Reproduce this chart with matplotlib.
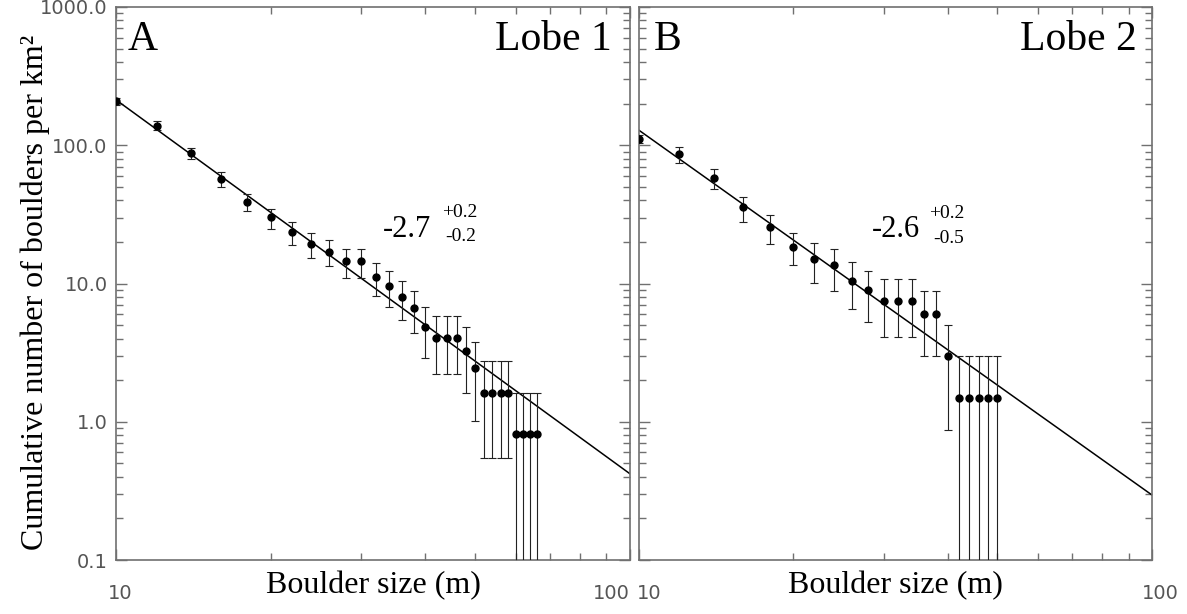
import numpy as np
import matplotlib
matplotlib.use("Agg")
import matplotlib.pyplot as plt
from matplotlib.ticker import FixedLocator, NullFormatter
import matplotlib.transforms as mtransforms

# ---------------- data ----------------
size_a = [10, 12, 14, 16, 18, 20, 22, 24, 26, 28, 30, 32, 34, 36, 38, 40,
          42, 44, 46, 48, 50, 52, 54, 56, 58, 60, 62, 64, 66]
dens_a = [208, 138, 88.3, 57.3, 38.9, 30.1, 23.5, 19.3, 16.9, 14.6, 14.6, 11.1,
          9.6, 8.0, 6.7, 4.87, 4.06, 4.06, 4.06, 3.23, 2.44, 1.62, 1.62, 1.62,
          1.62, 0.81, 0.81, 0.81, 0.81]
upper_a = [220, 149, 95.9, 63.7, 44.2, 34.8, 27.7, 23.3, 20.5, 17.8, 17.8, 14.0,
           12.3, 10.5, 8.87, 6.79, 5.79, 5.79, 5.79, 4.82, 3.79, 2.75, 2.75, 2.75,
           2.75, 1.62, 1.62, 1.62, 1.62]
lower_a = [196, 129, 79.5, 49.9, 33.5, 24.8, 19.0, 15.2, 13.3, 11.0, 11.0, 8.08,
           6.79, 5.47, 4.38, 2.88, 2.22, 2.22, 2.22, 1.62, 1.02, 0.547, 0.547,
           0.547, 0.547, 0.0, 0.0, 0.0, 0.0]

size_b = [10, 12, 14, 16, 18, 20, 22, 24, 26, 28, 30, 32, 34, 36, 38, 40,
          42, 44, 46, 48, 50]
dens_b = [110.4, 86.9, 57.9, 35.6, 25.5, 18.5, 15.0, 13.5, 10.5, 8.98, 7.51,
          7.51, 7.51, 5.98, 5.98, 3.01, 1.49, 1.49, 1.49, 1.49, 1.49]
upper_b = [118, 97.1, 67.0, 42.0, 31.1, 23.3, 19.5, 17.7, 14.4, 12.4, 10.7,
           10.7, 10.7, 8.87, 8.87, 5.04, 2.99, 2.99, 2.99, 2.99, 2.99]
lower_b = [103, 74.5, 48.3, 28.0, 19.2, 13.5, 10.1, 8.87, 6.51, 5.27, 4.08,
           4.08, 4.08, 2.99, 2.99, 0.87, 0.0, 0.0, 0.0, 0.0, 0.0]

# power-law fits: density at 10 m and exponent
fit_a = (213.0, -2.705)
fit_b = (128.8, -2.64)
fit_range = [10, 100]

slope_text_a = ("-2.7", "+0.2", "-0.2")
slope_text_b = ("-2.6", "+0.2", "-0.5")
panel_letters = ["A", "B"]
panel_titles = ["Lobe 1", "Lobe 2"]

y_ticks = [0.1, 1, 10, 100, 1000]
y_tick_labels = ["0.1", "1.0", "10.0", "100.0", "1000.0"]
x_ticks = [10, 100]
x_tick_labels = ["10", "100"]
x_minor = [20, 30, 40, 50, 60, 70, 80, 90]

xlabel = "Boulder size (m)"
ylabel = "Cumulative number of boulders per km\u00b2"

# ---------------- figure ----------------
W, H = 1187, 614
fig = plt.figure(figsize=(W / 100, H / 100), dpi=100)
serif = "Liberation Serif"
spine_col = "#707070"
tick_lab_col = "#555555"

ax_a = fig.add_axes([116 / W, 1 - 560 / H, 514 / W, 553 / H])
ax_b = fig.add_axes([638.7 / W, 1 - 560 / H, 513.3 / W, 553 / H])

def draw_panel(ax, size, dens, up, lo, fit, stext, letter, title, show_y, xlab_offsets):
    size = np.asarray(size, float)
    dens = np.asarray(dens, float)
    up = np.asarray(up, float)
    lo = np.maximum(np.asarray(lo, float), 1e-3)
    ax.set_xscale("log")
    ax.set_yscale("log")
    ax.set_xlim(10, 100)
    ax.set_ylim(0.1, 1000)
    xf = np.array(fit_range, float)
    ax.plot(xf, fit[0] * (xf / 10.0) ** fit[1], color="black", lw=1.1, zorder=2)
    ax.errorbar(size, dens, yerr=[dens - lo, up - dens], fmt="o", color="black",
                ecolor="#222222", elinewidth=0.8, capsize=3, capthick=0.8,
                markersize=5, zorder=3)
    for s in ax.spines.values():
        s.set_color(spine_col)
        s.set_linewidth(1.2)
    ax.yaxis.set_major_locator(FixedLocator(y_ticks))
    minors = [m * 10.0 ** e for e in range(-1, 3) for m in range(2, 10)]
    ax.yaxis.set_minor_locator(FixedLocator(minors))
    ax.yaxis.set_minor_formatter(NullFormatter())
    ax.set_yticklabels(y_tick_labels)
    ax.xaxis.set_major_locator(FixedLocator(x_ticks))
    ax.xaxis.set_minor_locator(FixedLocator(x_minor))
    ax.xaxis.set_minor_formatter(NullFormatter())
    ax.set_xticklabels(x_tick_labels)
    ax.tick_params(axis="both", which="both", direction="in", top=True, right=True,
                   color=spine_col, labelcolor=tick_lab_col, width=1.0)
    ax.tick_params(axis="y", which="major", length=8, pad=6, labelsize=14)
    ax.tick_params(axis="y", which="minor", length=5)
    ax.tick_params(axis="x", which="major", length=8, pad=17, labelsize=14)
    ax.tick_params(axis="x", which="minor", length=5)
    ax.tick_params(axis="y", labelleft=show_y)
    for lab, dx in zip(ax.get_xticklabels(), xlab_offsets):
        lab.set_transform(lab.get_transform() +
                          mtransforms.ScaledTranslation(dx / 100, 0, fig.dpi_scale_trans))
    # texts
    ax.text(letter[1], 0.922, letter[0], transform=ax.transAxes, fontsize=30,
            family=serif, ha="left", va="baseline")
    ax.text(title[1], 0.922, title[0], transform=ax.transAxes, fontsize=30,
            family=serif, ha="right", va="baseline")
    (mx, my), (px, py), (sx, sy) = stext[3]
    ax.text(mx, my, stext[0], transform=ax.transAxes, fontsize=22, family=serif,
            ha="left", va="baseline")
    ax.text(px, py, stext[1], transform=ax.transAxes, fontsize=14, family=serif,
            ha="left", va="baseline")
    ax.text(sx, sy, stext[2], transform=ax.transAxes, fontsize=14, family=serif,
            ha="left", va="baseline")

draw_panel(ax_a, size_a, dens_a, upper_a, lower_a, fit_a,
           slope_text_a + (((0.519, 0.584), (0.635, 0.620), (0.640, 0.577)),),
           (panel_letters[0], 0.0228), (panel_titles[0], 0.965), True, [4, -19])
draw_panel(ax_b, size_b, dens_b, upper_b, lower_b, fit_b,
           slope_text_b + (((0.454, 0.584), (0.5656, 0.618), (0.573, 0.574)),),
           (panel_letters[1], 0.0298), (panel_titles[1], 0.971), False, [10, 8])

fig.text(373 / W, 1 - 586 / H, xlabel, fontsize=23, family=serif, ha="center", va="center")
fig.text(895 / W, 1 - 586 / H, xlabel, fontsize=23, family=serif, ha="center", va="center")
fig.text(35 / W, 1 - 292 / H, ylabel, fontsize=23, family=serif, rotation=90,
         ha="center", va="center")

fig.savefig("out.png", dpi=100)
